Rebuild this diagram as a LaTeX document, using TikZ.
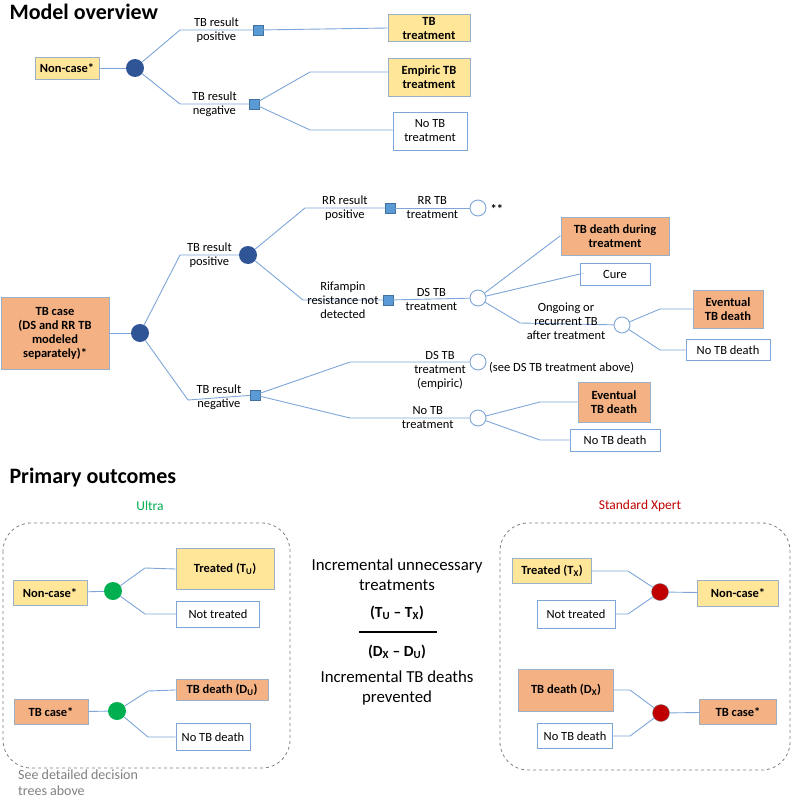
\documentclass[tikz,border=0pt]{standalone}
\usepackage{fontspec}
\setmainfont{Carlito}
\begin{document}
\begin{tikzpicture}[x=1pt,y=-1pt,
  ln/.style={draw=lc,line width=0.9pt},
  bx/.style={draw=bc,line width=0.9pt,align=center,font=\fontsize{12.5}{14}\selectfont,inner sep=2pt},
  yb/.style={bx,fill=yel,font=\fontsize{12.5}{14}\selectfont\bfseries},
  ob/.style={bx,fill=org,font=\fontsize{12.5}{14}\selectfont\bfseries},
  wb/.style={bx,fill=white,draw=lc},
  dc/.style={circle,fill=dblue,minimum size=18pt,inner sep=0pt},
  oc/.style={circle,draw=lc,fill=white,line width=0.9pt,minimum size=16pt,inner sep=0pt},
  gc/.style={circle,fill=grn,minimum size=18pt,inner sep=0pt},
  rc/.style={circle,fill=rd,draw=gray,minimum size=17pt,inner sep=0pt},
  sq/.style={rectangle,fill=sqc,draw=sqd,minimum size=10pt,inner sep=0pt},
  lb/.style={align=center,font=\fontsize{12.5}{14}\selectfont,inner sep=1pt},
  hd/.style={font=\fontsize{22}{23}\selectfont\bfseries,anchor=west},
]
\definecolor{lc}{HTML}{7EA6D8}
\definecolor{bc}{HTML}{9AAFC8}
\definecolor{yel}{HTML}{FFE699}
\definecolor{org}{HTML}{F4B183}
\definecolor{dblue}{HTML}{2F5597}
\definecolor{sqc}{HTML}{5B9BD5}
\definecolor{sqd}{HTML}{41719C}
\definecolor{grn}{HTML}{00B050}
\definecolor{rd}{HTML}{C00000}
\useasboundingbox (0,0) rectangle (795,800);

% ---- Model overview
\node[hd] (t1) at (6,12) {Model overview};
\node[yb,minimum width=64pt,minimum height=22pt] (nc) at (67,68) {Non-case*};
\node[dc] (c1) at (135,68) {};
\node[sq] (s1) at (258,30) {};
\node[sq] (s2) at (254,104) {};
\node[yb,minimum width=82pt,minimum height=27pt] (tbt) at (429,28) {TB\\treatment};
\node[yb,minimum width=82pt,minimum height=38pt] (emp) at (429,77) {Empiric TB\\treatment};
\node[wb,minimum width=74pt,minimum height=38pt] (ntb) at (430,131) {No TB\\treatment};
\coordinate (a1) at (180,30); \coordinate (a2) at (180,104);
\coordinate (a3) at (310,72); \coordinate (a4) at (310,130);
\draw[ln] (nc) -- (c1);
\draw[ln] (c1) -- (a1) -- node[lb]{TB result\\positive} (s1);
\draw[ln] (c1) -- (a2) -- node[lb]{TB result\\negative} (s2);
\draw[ln] (s1) -- (tbt.west);
\draw[ln] (s2) -- (a3) -- (a3-|emp.west);
\draw[ln] (s2) -- (a4) -- (a4-|ntb.west);

% ---- TB case tree
\node[ob,minimum width=108pt,minimum height=72pt] (tc) at (55,333) {TB case\\(DS and RR TB\\modeled\\separately)*};
\node[dc] (c2) at (140,333) {};
\node[dc] (c3) at (248,255) {};
\node[sq] (s3) at (255,395) {};
\node[sq] (s4) at (390,208) {};
\node[sq] (s5) at (388,300) {};
\node[oc] (o1) at (478,208) {};
\node[oc] (o2) at (478,298) {};
\node[oc] (o3) at (622,325) {};
\node[oc] (o4) at (478,362) {};
\node[oc] (o5) at (478,418) {};
\node[anchor=west,font=\fontsize{12.5}{12}\selectfont\bfseries] (ss) at (487,209) {**};
\node[anchor=west,lb] (see) at (488,368) {(see DS TB treatment above)};
\node[ob,minimum width=108pt,minimum height=38pt] (tdd) at (615,236) {TB death during\\treatment};
\node[wb,minimum width=70pt,minimum height=22pt] (cure) at (615,274) {Cure};
\node[ob,minimum width=70pt,minimum height=38pt] (etd1) at (728,309) {Eventual\\TB death};
\node[wb,minimum width=84pt,minimum height=21pt] (ntd1) at (728,350) {No TB death};
\node[ob,minimum width=72pt,minimum height=40pt] (etd2) at (614,402) {Eventual\\TB death};
\node[wb,minimum width=90pt,minimum height=22pt] (ntd2) at (615,440) {No TB death};
\coordinate (b1) at (180,255); \coordinate (b2) at (188,400);
\coordinate (b3) at (305,208); \coordinate (b4) at (303,300);
\coordinate (b5) at (350,362); \coordinate (b6) at (350,418);
\coordinate (b7) at (560,236); \coordinate (b8) at (580,274); \coordinate (b9) at (520,323);
\coordinate (b10) at (660,309); \coordinate (b11) at (660,350);
\coordinate (b12) at (540,402); \coordinate (b13) at (540,440);
\draw[ln] (tc) -- (c2);
\draw[ln] (c2) -- (b1) -- node[lb]{TB result\\positive} (c3);
\draw[ln] (c2) -- (b2) -- node[lb]{TB result\\negative} (s3);
\draw[ln] (c3) -- (b3) -- node[lb]{RR result\\positive} (s4);
\draw[ln] (c3) -- (b4) -- node[lb]{Rifampin\\resistance not\\detected} (s5);
\draw[ln] (s4) -- node[lb]{RR TB\\treatment} (o1);
\draw[ln] (s5) -- node[lb]{DS TB\\treatment} (o2);
\draw[ln] (o2) -- (b7) -- (tdd.west);
\draw[ln] (o2) -- (b8) -- (cure.west);
\draw[ln] (o2) -- (b9) -- (o3);
\node[lb] (ong) at (566,321) {Ongoing or\\recurrent TB\\after treatment};
\draw[ln] (o3) -- (b10) -- (etd1.west);
\draw[ln] (o3) -- (b11) -- (ntd1.west);
\draw[ln] (s3) -- (b5) -- (o4);
\node[lb] (dse) at (440,370) {DS TB\\treatment\\(empiric)};
\draw[ln] (s3) -- (b6) -- node[lb,pos=0.65]{No TB\\treatment} (o5);
\draw[ln] (o5) -- (b12) -- (etd2.west);
\draw[ln] (o5) -- (b13) -- (ntd2.west);

% ---- Primary outcomes
\node[hd] (t2) at (6,478) {Primary outcomes};
\node[font=\fontsize{13.5}{14}\selectfont,text=grn] (ul) at (150,506) {Ultra};
\node[font=\fontsize{13.5}{14}\selectfont,text=rd] (sx) at (640,506) {Standard Xpert};
\draw[gray,dashed,line width=0.8pt,rounded corners=28pt] (3,523) rectangle (290,768);
\draw[gray,dashed,line width=0.8pt,rounded corners=28pt] (500,523) rectangle (790,770);
\node[anchor=north west,align=left,text=gray,font=\fontsize{14}{16}\selectfont,inner sep=0pt] (sd) at (18,770) {See detailed decision\\trees above};

\node[yb,minimum width=74pt,minimum height=25pt] (unc) at (50,593) {Non-case*};
\node[gc] (g1) at (113,591) {};
\node[yb,minimum width=98pt,minimum height=41pt] (ut) at (225,569) {Treated (T\textsubscript{U})};
\node[wb,minimum width=83pt,minimum height=26pt] (unt) at (218,614) {Not treated};
\node[ob,minimum width=74pt,minimum height=25pt] (utc) at (51,712) {TB case*};
\node[gc] (g2) at (117,711) {};
\node[ob,minimum width=92pt,minimum height=21pt] (utd) at (222,690) {TB death (D\textsubscript{U})};
\node[wb,minimum width=74pt,minimum height=27pt] (untd) at (213,737) {No TB death};
\draw[ln] (unc) -- (g1);
\draw[ln] (g1) -- (145,568) -- (ut.west);
\draw[ln] (g1) -- (145,614) -- (unt.west);
\draw[ln] (utc) -- (g2);
\draw[ln] (g2) -- (148,691) -- (utd.west);
\draw[ln] (g2) -- (148,737) -- (untd.west);

\node[yb,minimum width=79pt,minimum height=25pt] (xt) at (552,571) {Treated (T\textsubscript{X})};
\node[wb,minimum width=78pt,minimum height=28pt] (xnt) at (576,614) {Not treated};
\node[rc] (r1) at (660,592) {};
\node[yb,minimum width=81pt,minimum height=26pt] (xnc) at (738,593) {Non-case*};
\node[ob,minimum width=95pt,minimum height=42pt] (xtd) at (566,690) {TB death (D\textsubscript{X})};
\node[wb,minimum width=75pt,minimum height=25pt] (xntd) at (575,736) {No TB death};
\node[rc] (r2) at (661,713) {};
\node[ob,minimum width=77pt,minimum height=25pt] (xtc) at (738,712) {TB case*};
\draw[ln] (xt.east) -- (628,571) -- (r1);
\draw[ln] (xnt.east) -- (628,614) -- (r1);
\draw[ln] (r1) -- (xnc);
\draw[ln] (xtd.east) -- (630,690) -- (r2);
\draw[ln] (xntd.east) -- (630,736) -- (r2);
\draw[ln] (r2) -- (xtc);

\node[align=center,font=\fontsize{16.8}{20}\selectfont] (m1) at (397,575) {Incremental unnecessary\\treatments};
\node[font=\fontsize{15.5}{16}\selectfont\bfseries] (m2) at (397,613) {(T\textsubscript{U} – T\textsubscript{X})};
\draw[line width=1.6pt] (359,632) -- (437,632);
\node[font=\fontsize{15.5}{16}\selectfont\bfseries] (m3) at (397,652) {(D\textsubscript{X} – D\textsubscript{U})};
\node[align=center,font=\fontsize{16.8}{20}\selectfont] (m4) at (397,688) {Incremental TB deaths\\prevented};
\end{tikzpicture}
\end{document}
